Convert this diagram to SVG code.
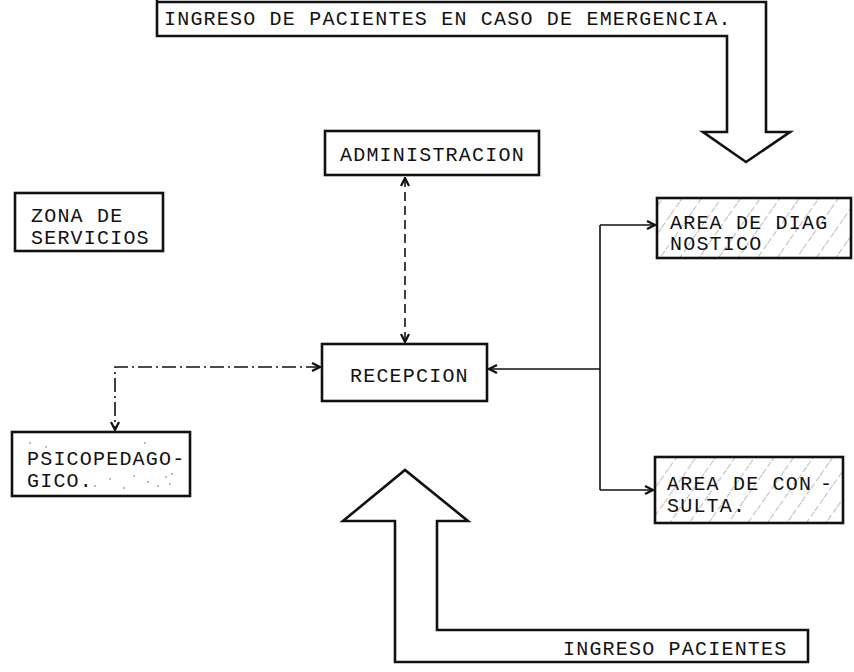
<svg xmlns="http://www.w3.org/2000/svg" width="854" height="672" viewBox="0 0 854 672">
<style>
.box{fill:#fff;stroke:#111;stroke-width:2.6}
.hbox{fill:url(#hatch);stroke:#111;stroke-width:2.6}
.big{fill:none;stroke:#111;stroke-width:2.6;stroke-linejoin:miter}
.t{font-family:"Liberation Mono","DejaVu Sans Mono",monospace;font-size:20px;letter-spacing:1.2px;fill:#111}
.c{fill:none;stroke:#111;stroke-width:1.6}
.dash{stroke-dasharray:9 5}
.dd{stroke-dasharray:14 4 2 4}
</style>
<defs>
<pattern id="hatch" width="16" height="16" patternUnits="userSpaceOnUse" patternTransform="rotate(35)">
<rect width="16" height="16" fill="#fff"/>
<line x1="0" y1="0" x2="0" y2="16" stroke="#555" stroke-width="0.8" stroke-dasharray="6 3"/>
</pattern>
<marker id="arr" viewBox="0 0 10 10" refX="9" refY="5" markerWidth="10" markerHeight="10" markerUnits="userSpaceOnUse" orient="auto-start-reverse">
<path d="M1,1 L9,5 L1,9" fill="none" stroke="#111" stroke-width="2.2"/>
</marker>
</defs>
<rect width="854" height="672" fill="#fff"/>

<g id="emergencia">
<path class="big" d="M157,0 V36 H727 V132 H703 L746,162 L790,132 H766 V2 H157"/>
<text class="t" x="164" y="25">INGRESO DE PACIENTES EN CASO DE EMERGENCIA.</text>
</g>

<g id="ingreso">
<path class="big" d="M395,521 H343 L405,470 L468,521 H437 V630 H808 V662 H395 Z"/>
<text class="t" x="563" y="655">INGRESO PACIENTES</text>
</g>

<g id="administracion">
<rect class="box" x="325" y="131" width="214" height="44"/>
<text class="t" x="340" y="161">ADMINISTRACION</text>
</g>

<g id="servicios">
<rect class="box" x="15" y="193" width="148" height="58"/>
<text class="t" x="31" y="222">ZONA DE</text>
<text class="t" x="31" y="244">SERVICIOS</text>
</g>

<g id="diagnostico">
<rect class="hbox" x="657" y="198" width="194" height="60"/>
<text class="t" x="670" y="229">AREA DE DIAG</text>
<text class="t" x="670" y="250">NOSTICO</text>
</g>

<g id="recepcion">
<rect class="box" x="322" y="344" width="165" height="57"/>
<text class="t" x="350" y="382">RECEPCION</text>
</g>

<g id="psicopedagogico">
<rect class="box" x="12" y="432" width="178" height="64"/>
<g fill="#666">
<circle cx="30" cy="443" r="0.8"/><circle cx="46" cy="447" r="0.8"/><circle cx="145" cy="443" r="0.8"/>
<circle cx="110" cy="479" r="0.8"/><circle cx="134" cy="476" r="0.8"/><circle cx="148" cy="482" r="0.8"/>
<circle cx="166" cy="477" r="0.8"/><circle cx="170" cy="484" r="0.8"/><circle cx="158" cy="486" r="0.8"/>
<circle cx="124" cy="488" r="0.8"/><circle cx="95" cy="486" r="0.8"/><circle cx="172" cy="474" r="0.8"/>
</g>
<text class="t" x="27" y="465">PSICOPEDAGO-</text>
<text class="t" x="27" y="487">GICO.</text>
</g>

<g id="consulta">
<rect class="hbox" x="655" y="457" width="188" height="66"/>
<text class="t" x="667" y="490">AREA DE CON</text>
<text class="t" x="820" y="490">-</text>
<text class="t" x="667" y="512">SULTA.</text>
</g>

<g id="connectors">
<path class="c dash" d="M405,178 V342" marker-start="url(#arr)" marker-end="url(#arr)"/>
<path class="c dd" d="M320,367 H115 V430" marker-start="url(#arr)" marker-end="url(#arr)"/>
<path class="c" d="M600,369 H489" marker-end="url(#arr)"/>
<path class="c" d="M600,225 V490"/>
<path class="c" d="M600,225 H655" marker-end="url(#arr)"/>
<path class="c" d="M600,490 H653" marker-end="url(#arr)"/>
</g>
</svg>
